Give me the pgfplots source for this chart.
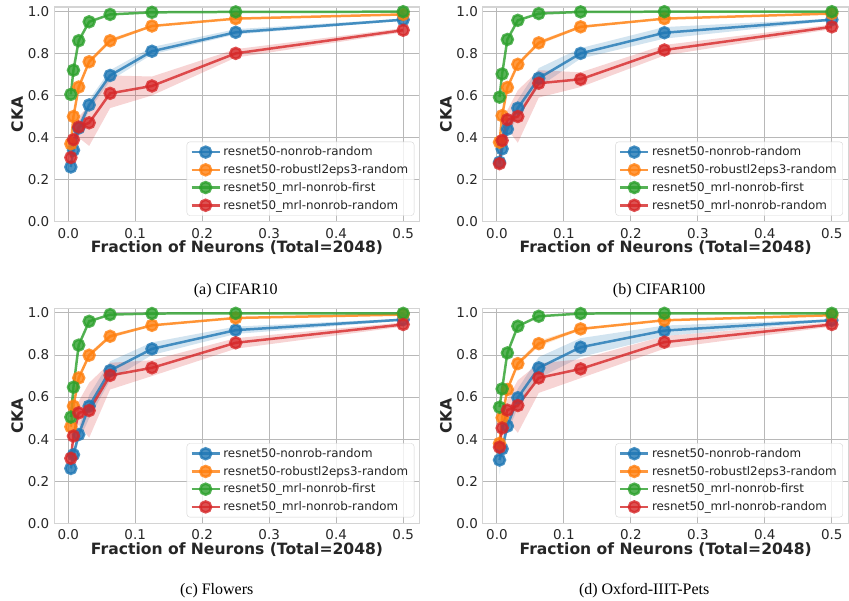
\documentclass[border=0pt]{standalone}
\usepackage{pgfplots}
\usepackage{pgfplotstable}
\pgfplotsset{compat=1.18}
\usepgfplotslibrary{fillbetween}
\usepackage{fontspec}
\setmainfont{DejaVu Sans}
\newfontfamily\capfont{Liberation Serif}
\definecolor{tBlue}{HTML}{1F77B4}
\definecolor{tOrange}{HTML}{FF7F0E}
\definecolor{tGreen}{HTML}{2CA02C}
\definecolor{tRed}{HTML}{D62728}
\definecolor{gridc}{HTML}{B8B8B8}
\definecolor{framec}{HTML}{D4D4D4}
\definecolor{tickc}{HTML}{262626}

\pgfplotstableread{
x bm bl bh om ol oh gm gl gh rm rl rh
0.00390625 0.260 0.240 0.280 0.370 0.360 0.380 0.605 0.600 0.610 0.305 0.290 0.320
0.0078125  0.340 0.320 0.360 0.500 0.490 0.510 0.720 0.715 0.725 0.390 0.370 0.410
0.015625   0.445 0.420 0.470 0.640 0.630 0.650 0.860 0.855 0.865 0.450 0.400 0.500
0.03125    0.555 0.530 0.580 0.760 0.750 0.770 0.950 0.948 0.952 0.470 0.360 0.550
0.0625     0.695 0.670 0.720 0.860 0.850 0.870 0.985 0.983 0.987 0.610 0.540 0.695
0.125      0.810 0.795 0.830 0.930 0.925 0.935 0.995 0.994 0.996 0.645 0.600 0.690
0.25       0.900 0.890 0.915 0.965 0.962 0.968 0.997 0.996 0.998 0.800 0.780 0.820
0.5        0.960 0.955 0.965 0.985 0.983 0.987 0.998 0.997 0.999 0.910 0.900 0.920
}\tabA
\pgfplotstableread{
x bm bl bh om ol oh gm gl gh rm rl rh
0.00390625 0.283 0.260 0.310 0.378 0.370 0.390 0.592 0.588 0.596 0.276 0.230 0.320
0.0078125  0.346 0.320 0.370 0.504 0.495 0.515 0.702 0.697 0.707 0.386 0.350 0.420
0.015625   0.440 0.410 0.470 0.638 0.630 0.646 0.866 0.862 0.870 0.485 0.440 0.530
0.03125    0.540 0.500 0.580 0.748 0.740 0.756 0.957 0.955 0.959 0.500 0.375 0.625
0.0625     0.682 0.640 0.730 0.850 0.840 0.860 0.989 0.987 0.991 0.658 0.590 0.720
0.125      0.800 0.775 0.825 0.926 0.920 0.932 0.997 0.996 0.998 0.677 0.640 0.710
0.25       0.898 0.870 0.925 0.965 0.962 0.968 0.998 0.997 0.999 0.816 0.790 0.840
0.5        0.960 0.955 0.965 0.989 0.987 0.991 0.998 0.997 0.999 0.926 0.915 0.937
}\tabB
\pgfplotstableread{
x bm bl bh om ol oh gm gl gh rm rl rh
0.00390625 0.261 0.210 0.300 0.459 0.450 0.470 0.505 0.500 0.510 0.309 0.290 0.330
0.0078125  0.326 0.300 0.350 0.557 0.545 0.570 0.647 0.640 0.654 0.415 0.390 0.440
0.015625   0.422 0.390 0.450 0.691 0.680 0.700 0.847 0.840 0.854 0.525 0.470 0.580
0.03125    0.557 0.500 0.610 0.799 0.790 0.810 0.960 0.957 0.963 0.536 0.407 0.668
0.0625     0.726 0.680 0.770 0.889 0.880 0.898 0.992 0.990 0.994 0.703 0.636 0.763
0.125      0.829 0.800 0.860 0.941 0.936 0.946 0.997 0.996 0.998 0.739 0.700 0.775
0.25       0.918 0.900 0.935 0.976 0.973 0.979 0.998 0.997 0.999 0.858 0.830 0.880
0.5        0.968 0.963 0.973 0.992 0.990 0.994 0.998 0.997 0.999 0.945 0.935 0.955
}\tabC
\pgfplotstableread{
x bm bl bh om ol oh gm gl gh rm rl rh
0.00390625 0.301 0.230 0.370 0.380 0.370 0.390 0.552 0.546 0.558 0.362 0.340 0.380
0.0078125  0.354 0.320 0.390 0.502 0.490 0.515 0.639 0.632 0.646 0.453 0.420 0.490
0.015625   0.462 0.430 0.500 0.636 0.625 0.647 0.810 0.803 0.817 0.538 0.490 0.590
0.03125    0.597 0.550 0.640 0.759 0.750 0.770 0.937 0.934 0.940 0.560 0.430 0.680
0.0625     0.739 0.690 0.790 0.854 0.840 0.868 0.984 0.982 0.986 0.691 0.620 0.760
0.125      0.837 0.790 0.880 0.924 0.918 0.930 0.997 0.996 0.998 0.734 0.690 0.780
0.25       0.916 0.890 0.940 0.965 0.962 0.968 0.998 0.997 0.999 0.861 0.830 0.890
0.5        0.965 0.960 0.970 0.989 0.987 0.991 0.998 0.997 0.999 0.945 0.935 0.955
}\tabD

\newcommand{\band}[4]{%
  \addplot[draw=none,forget plot,name path=#4L] table[x=x,y=#3l]{#1};
  \addplot[draw=none,forget plot,name path=#4H] table[x=x,y=#3h]{#1};
  \addplot[fill=#2,fill opacity=0.2,draw=none,forget plot] fill between[of=#4L and #4H];
}
\newcommand{\mline}[3]{%
  \addplot[color=#2,line width=2.5pt,draw opacity=0.8,mark=*,mark size=5.5pt,
    mark options={draw=none,fill=#2,fill opacity=0.8}] table[x=x,y=#3m]{#1};
}
\newcommand{\allplots}[2]{%
  \band{#1}{tBlue}{b}{#2b}\band{#1}{tOrange}{o}{#2o}\band{#1}{tGreen}{g}{#2g}\band{#1}{tRed}{r}{#2r}
  \mline{#1}{tBlue}{b}\mline{#1}{tOrange}{o}\mline{#1}{tGreen}{g}\mline{#1}{tRed}{r}
  \legend{resnet50-nonrob-random,resnet50-robustl2eps3-random,resnet50\_mrl-nonrob-first,resnet50\_mrl-nonrob-random}
}

\pgfplotsset{
  cka/.style={
    scale only axis,
    width=366pt, height=215pt,
    xmin=-0.0209, xmax=0.5248, ymin=0, ymax=1.0204,
    xtick={0,0.1,0.2,0.3,0.4,0.5},
    ytick={0,0.2,0.4,0.6,0.8,1.0},
    grid=major,
    major grid style={draw=gridc,line width=0.9pt},
    axis line style={draw=framec,line width=1.1pt},
    major tick length=0pt,
    /pgf/number format/assume math mode=true,
    tick label style={font=\fontsize{13.5}{15}\selectfont,text=tickc},
    xticklabel={\pgfmathprintnumber[fixed,fixed zerofill,precision=1]{\tick}},
    yticklabel={\pgfmathprintnumber[fixed,fixed zerofill,precision=1]{\tick}},
    xticklabel style={yshift=-3pt},
    yticklabel style={xshift=-1.5pt},
    xlabel={Fraction of Neurons (Total=2048)},
    ylabel={CKA},
    every axis x label/.style={at={(axis description cs:0.5,-0.121)},anchor=center,
      font=\bfseries\fontsize{15.6}{18}\selectfont,text=tickc},
    every axis y label/.style={at={(axis description cs:-0.101,0.5)},anchor=center,rotate=90,
      font=\bfseries\fontsize{15.6}{18}\selectfont,text=tickc},
    legend cell align=left,
    legend image code/.code={%
      \draw[mark repeat=2,mark phase=2,##1] plot coordinates {(0pt,0pt) (14pt,0pt) (28pt,0pt)};},
    legend style={at={(1,0)},anchor=south east,xshift=-5.5pt,yshift=6pt,
      draw=framec,rounded corners=3pt,fill=white,fill opacity=0.8,text opacity=1,
      font=\fontsize{11.9}{14}\selectfont,text=tickc,
      inner xsep=3.5pt,inner ysep=2.5pt,row sep=2.2pt,
      nodes={inner sep=2.5pt}},
  }
}

\begin{document}
\begin{tikzpicture}
\begin{axis}[cka, at={(54.3pt,378pt)}, anchor=south west]
  \allplots{\tabA}{A}
\end{axis}
\begin{axis}[cka, at={(483.5pt,378pt)}, anchor=south west]
  \allplots{\tabB}{B}
\end{axis}
\begin{axis}[cka, at={(54.3pt,76pt)}, anchor=south west]
  \allplots{\tabC}{C}
\end{axis}
\begin{axis}[cka, at={(483.5pt,76pt)}, anchor=south west]
  \allplots{\tabD}{D}
\end{axis}
\node[font=\capfont\fontsize{16}{18}\selectfont] at (236pt,309pt) {(a) CIFAR10};
\node[font=\capfont\fontsize{16}{18}\selectfont] at (660pt,309pt) {(b) CIFAR100};
\node[font=\capfont\fontsize{16}{18}\selectfont] at (217pt,9pt) {(c) Flowers};
\node[font=\capfont\fontsize{16}{18}\selectfont] at (645pt,9pt) {(d) Oxford-IIIT-Pets};
\path (0pt,0pt) rectangle (849pt,600pt);
\end{tikzpicture}
\end{document}
